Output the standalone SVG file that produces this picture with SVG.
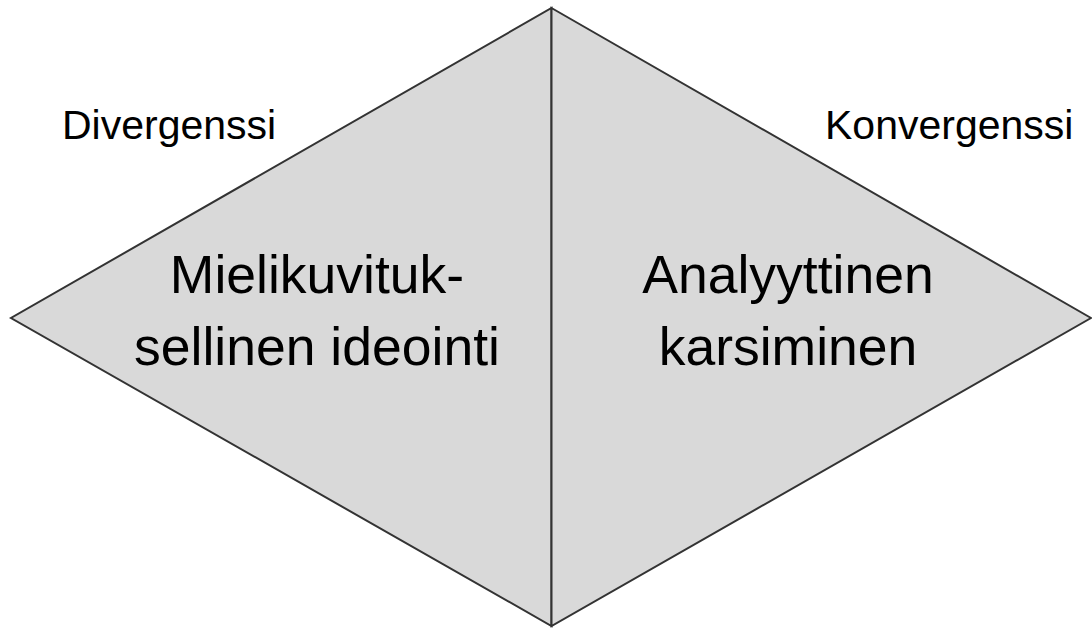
<svg xmlns="http://www.w3.org/2000/svg" width="1092" height="628" viewBox="0 0 1092 628">
<style>
.shape{fill:#d9d9d9;stroke:#333333;stroke-width:2;stroke-linejoin:miter}
.big{font-family:"Liberation Sans",Arial,sans-serif;font-size:53.5px;fill:#000;text-anchor:middle}
.lbl{font-family:"Liberation Sans",Arial,sans-serif;font-size:41px;fill:#000}
</style>
<rect width="1092" height="628" fill="#ffffff"/>
<g id="left-half">
<polygon class="shape" points="551.5,8 551.5,626 11,318"/>
<text class="big" x="317" y="293">Mielikuvituk-</text>
<text class="big" x="317" y="365">sellinen ideointi</text>
</g>
<g id="right-half">
<polygon class="shape" points="551.5,8 1091,318 551.5,626"/>
<text class="big" x="788" y="293">Analyyttinen</text>
<text class="big" x="788" y="365">karsiminen</text>
</g>
<g id="labels">
<text class="lbl" x="62" y="139">Divergenssi</text>
<text class="lbl" x="825" y="139">Konvergenssi</text>
</g>
</svg>
